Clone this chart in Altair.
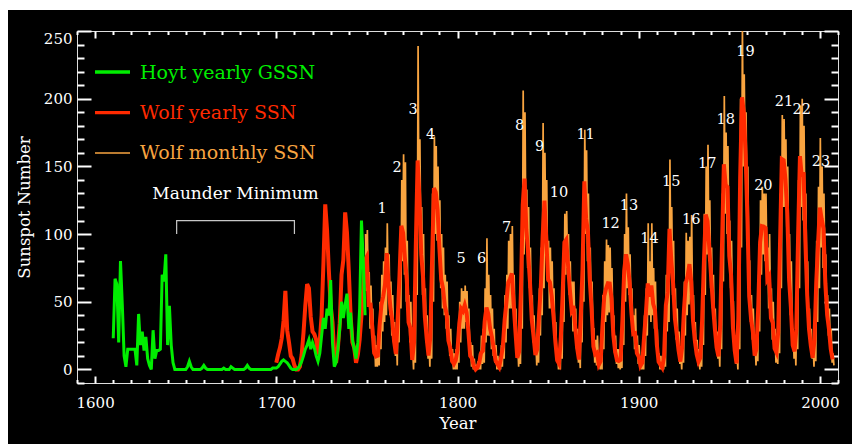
import altair as alt
import pandas as pd

FONT = "DejaVu Serif"
GREEN = "#00ee00"
RED = "#ff2a00"
ORANGE = "#f8a440"

# ---------------- data ----------------
wolf_start = 1700
wolf_yearly = [
    5, 11, 16, 23, 36, 58, 29, 20, 10, 8,
    3, 0, 0, 2, 11, 27, 47, 63, 60, 39,
    28, 26, 22, 11, 21, 40, 78, 122, 103, 73,
    47, 35, 11, 5, 16, 34, 70, 81, 116, 101,
    73, 40, 20, 16, 5, 11, 22, 40, 60, 80.9,
    83.4, 47.7, 47.8, 30.7, 12.2, 9.6, 10.2, 32.4, 47.6, 54.0,
    62.9, 85.9, 61.2, 45.1, 36.4, 20.9, 11.4, 37.8, 69.8, 106.1,
    100.8, 81.6, 66.5, 34.8, 30.6, 7.0, 19.8, 92.5, 154.4, 125.9,
    84.8, 68.1, 38.5, 22.8, 10.2, 24.1, 82.9, 134.0, 130.9, 118.1,
    89.9, 66.6, 60.0, 46.9, 41.0, 21.3, 16.0, 6.4, 4.1, 6.8,
    14.5, 34.0, 45.0, 43.1, 47.5, 42.2, 28.1, 10.1, 8.1, 2.5,
    0.0, 1.4, 5.0, 12.2, 13.9, 35.4, 45.8, 41.1, 30.1, 23.9,
    15.6, 6.6, 4.0, 1.8, 8.5, 16.6, 36.3, 49.6, 64.2, 67.0,
    70.9, 47.8, 27.5, 8.5, 13.2, 56.9, 121.5, 141.0, 103.2, 85.7,
    64.6, 36.7, 24.2, 10.7, 15.0, 40.1, 61.5, 98.5, 124.7, 96.3,
    66.6, 64.5, 54.1, 39.0, 20.6, 6.7, 4.3, 22.7, 54.8, 93.8,
    95.8, 77.2, 59.1, 44.0, 47.0, 30.5, 16.3, 7.3, 37.6, 74.0,
    139.0, 111.2, 101.6, 66.2, 44.7, 17.0, 11.3, 12.4, 3.4, 6.0,
    32.3, 54.3, 59.7, 63.7, 63.5, 52.2, 25.4, 13.1, 6.8, 6.3,
    7.1, 35.6, 73.0, 85.1, 78.0, 64.0, 41.8, 26.2, 26.7, 12.1,
    9.5, 2.7, 5.0, 24.4, 42.0, 63.5, 53.8, 62.0, 48.5, 43.9,
    18.6, 5.7, 3.6, 1.4, 9.6, 47.4, 57.1, 103.9, 80.6, 63.6,
    37.6, 26.1, 14.2, 5.8, 16.7, 44.3, 63.9, 69.0, 77.8, 64.9,
    35.7, 21.2, 11.1, 5.7, 8.7, 36.1, 79.7, 114.4, 109.6, 88.8,
    67.8, 47.5, 30.6, 16.3, 9.6, 33.2, 92.6, 151.6, 136.3, 134.7,
    83.9, 69.4, 31.5, 13.9, 4.4, 38.0, 141.7, 201.0, 190.0, 159.0,
    112.3, 53.9, 37.6, 27.9, 10.2, 15.1, 47.0, 93.8, 105.9, 105.5,
    104.5, 66.6, 68.9, 38.0, 34.5, 15.5, 12.6, 27.5, 92.5, 155.4,
    154.6, 140.4, 115.9, 66.6, 45.9, 17.9, 13.4, 29.4, 100.2, 157.6,
    142.6, 145.7, 94.3, 54.6, 29.9, 17.5, 8.6, 21.5, 64.3, 93.3,
    119.6, 111.0, 104.0, 63.7, 40.4, 29.8, 15.2, 7.5,
]

hoyt_start = 1610
hoyt_yearly = [
    23, 67, 63, 20, 80, 48, 10, 2, 15, 15,
    15, 15, 15, 3, 41, 18, 28, 14, 24, 8,
    3, 0, 29, 8, 14, 14, 15, 70, 65, 85,
    18, 47, 18, 5, 0, 0, 0, 0, 0, 0,
    0, 2, 6, 2, 0, 0, 0, 0, 0, 1,
    3, 1, 0, 0, 0, 0, 0, 0, 0, 0,
    0, 1, 0, 0, 0, 2, 1, 0, 0, 0,
    0, 0, 0, 1, 3, 1, 0, 0, 0, 0,
    0, 0, 0, 0, 0, 0, 0, 0, 1, 1,
    1, 2, 4, 6, 7, 6, 5, 3, 1, 0,
    0, 0, 1, 3, 6, 10, 15, 18, 22, 15,
    20, 16, 10, 6, 12, 25, 38, 30, 45, 40,
    66, 20, 2, 5, 15, 30, 50, 38, 48, 56,
    30, 42, 22, 15, 8, 20, 45, 110, 80, 40,
]

monthly_start = 1749
monthly_high = [
    100,
    103, 72, 62, 45, 25, 18, 25, 50, 70, 80,
    90, 108, 85, 65, 55, 35, 25, 55, 100, 140,
    159, 153, 95, 55, 50, 15, 40, 130, 239, 170,
    120, 100, 60, 40, 22, 45, 130, 172, 165, 150,
    125, 100, 90, 70, 65, 40, 30, 15, 12, 15,
    25, 50, 60, 58, 62, 58, 45, 20, 18, 8,
    2, 6, 12, 25, 30, 60, 97, 70, 55, 45,
    30, 18, 10, 8, 18, 30, 55, 70, 95, 100,
    106, 70, 45, 18, 28, 90, 206, 190, 133, 120,
    90, 55, 40, 20, 30, 60, 90, 182, 160, 140,
    95, 90, 80, 60, 35, 15, 12, 40, 80, 115,
    117, 100, 80, 65, 65, 45, 30, 15, 60, 100,
    177, 162, 130, 90, 65, 30, 22, 25, 10, 15,
    55, 80, 96, 92, 90, 75, 40, 25, 15, 15,
    15, 55, 100, 130, 105, 85, 60, 40, 45, 25,
    18, 8, 12, 40, 60, 108, 80, 108, 75, 65,
    30, 12, 10, 5, 20, 70, 80, 155, 120, 95,
    60, 45, 28, 12, 30, 65, 101, 95, 98, 114,
    55, 35, 22, 15, 18, 60, 115, 150, 166, 125,
    90, 70, 45, 28, 20, 55, 130, 202, 175, 165,
    110, 95, 50, 25, 12, 70, 200, 254, 218, 190,
    150, 80, 55, 45, 20, 25, 70, 125, 135, 130,
    130, 90, 100, 60, 50, 30, 25, 45, 130, 188,
    185, 170, 150, 100, 80, 30, 25, 45, 140, 195,
    200, 180, 130, 80, 45, 30, 18, 40, 95, 135,
    171, 150, 130, 85, 55, 45, 30, 12,
]
monthly_low = [
    58,
    62, 30, 30, 15, 2, 2, 3, 15, 28, 35,
    40, 60, 40, 25, 20, 10, 3, 20, 45, 80,
    70, 50, 40, 20, 12, 0, 5, 55, 110, 90,
    55, 40, 20, 8, 2, 8, 50, 100, 95, 90,
    60, 45, 40, 30, 25, 10, 5, 0, 0, 0,
    5, 20, 30, 30, 35, 30, 15, 2, 0, 0,
    0, 0, 0, 4, 5, 20, 25, 25, 15, 10,
    5, 0, 0, 0, 2, 8, 20, 30, 45, 45,
    50, 30, 15, 2, 4, 30, 85, 100, 75, 60,
    45, 20, 12, 3, 5, 25, 40, 60, 90, 65,
    45, 45, 35, 20, 8, 0, 0, 8, 35, 70,
    75, 55, 40, 28, 30, 15, 5, 1, 20, 50,
    100, 80, 75, 45, 30, 5, 3, 3, 0, 0,
    15, 35, 40, 42, 45, 32, 12, 4, 1, 0,
    1, 18, 50, 60, 55, 45, 28, 15, 12, 4,
    2, 0, 0, 10, 25, 40, 35, 40, 30, 28,
    8, 0, 0, 0, 2, 28, 35, 75, 55, 40,
    22, 12, 4, 0, 5, 25, 40, 48, 55, 40,
    20, 10, 3, 0, 2, 18, 55, 85, 80, 60,
    45, 30, 18, 8, 2, 15, 65, 115, 100, 100,
    60, 50, 18, 4, 0, 15, 90, 150, 150, 120,
    80, 35, 22, 15, 3, 6, 28, 70, 85, 80,
    80, 45, 45, 22, 20, 5, 4, 12, 60, 120,
    120, 105, 80, 40, 25, 8, 3, 15, 60, 120,
    110, 110, 65, 35, 18, 8, 2, 6, 35, 60,
    90, 75, 75, 45, 25, 15, 5, 3,
]

cycle_labels = ["1", "2", "3", "4", "5", "6", "7", "8", "9", "10", "11", "12",
                "13", "14", "15", "16", "17", "18", "19", "20", "21", "22", "23"]
cycle_label_year = [1758.4, 1766.7, 1775.5, 1785.1, 1802.0, 1813.3, 1827.1, 1834.3,
                    1845.3, 1856.0, 1870.7, 1884.5, 1894.6, 1906.0, 1918.0, 1929.0,
                    1937.8, 1948.0, 1959.0, 1968.8, 1980.2, 1990.0, 2000.6]
cycle_label_value = [120, 150, 193, 175, 83, 83, 106, 181, 166, 132, 175, 109,
                     122, 98, 140, 112, 153, 186, 236, 137, 199, 193, 155]

maunder_label = "Maunder Minimum"
maunder_years = [1645, 1710]
maunder_bracket = [100, 110]
maunder_label_value = 126

legend_labels = ["Hoyt yearly GSSN", "Wolf yearly SSN", "Wolf monthly SSN"]

x_major = [1600, 1700, 1800, 1900, 2000]
y_major = [0, 50, 100, 150, 200, 250]
x_minor = [v for v in range(1590, 2011, 10) if v % 100 != 0]
y_minor = [v for v in range(-10, 251, 10) if v % 50 != 0]

# ---------------- tables ----------------
wolf_df = pd.DataFrame({"year": list(range(wolf_start, wolf_start + len(wolf_yearly))),
                        "ssn": wolf_yearly})
hoyt_df = pd.DataFrame({"year": list(range(hoyt_start, hoyt_start + len(hoyt_yearly))),
                        "ssn": hoyt_yearly})
mrows = []
for i, (hi, lo) in enumerate(zip(monthly_high, monthly_low)):
    yr = monthly_start + i
    mrows.append({"t": yr + 0.25, "ssn": hi})
    mrows.append({"t": yr + 0.75, "ssn": lo})
monthly_df = pd.DataFrame(mrows)
cycle_df = pd.DataFrame({"year": cycle_label_year, "v": cycle_label_value, "label": cycle_labels})
bracket_df = pd.DataFrame({
    "year": [maunder_years[0], maunder_years[0], maunder_years[1], maunder_years[1]],
    "v": [maunder_bracket[0], maunder_bracket[1], maunder_bracket[1], maunder_bracket[0]],
    "o": [0, 1, 2, 3],
})
mlabel_df = pd.DataFrame({"year": [(maunder_years[0] + maunder_years[1]) / 2],
                          "v": [maunder_label_value], "label": [maunder_label]})

XS = alt.Scale(domain=[1590, 2010], nice=False, zero=False)
YS = alt.Scale(domain=[-10, 250], nice=False, zero=False)

common = dict(domain=False, grid=False, tickColor="white", tickWidth=2,
              labelColor="white", labelFont=FONT, labelFontSize=15)

ax_bottom_major = alt.Axis(orient="bottom", values=x_major, format="d", offset=-7, tickSize=7,
                           labelPadding=12, title="Year", titleColor="white", titleFont=FONT,
                           titleFontSize=16.5, titleFontWeight="normal", titlePadding=5, **common)
ax_bottom_minor = alt.Axis(orient="bottom", values=x_minor, offset=-3.5, tickSize=3.5,
                           labels=False, title=None, **common)
ax_top_major = alt.Axis(orient="top", values=x_major, offset=-7, tickSize=7,
                        labels=False, title=None, **common)
ax_top_minor = alt.Axis(orient="top", values=x_minor, offset=-3.5, tickSize=3.5,
                        labels=False, title=None, **common)
ax_left_major = alt.Axis(orient="left", values=y_major, offset=-14, tickSize=14,
                         labelPadding=5, labelFlush=True, title="Sunspot Number",
                         titleColor="white", titleFont=FONT, titleFontSize=16.5,
                         titleFontWeight="normal", titlePadding=11, **common)
ax_left_minor = alt.Axis(orient="left", values=y_minor, offset=-7, tickSize=7,
                         labels=False, title=None, **common)
ax_right_major = alt.Axis(orient="right", values=y_major, offset=-14, tickSize=14,
                          labels=False, title=None, **common)
ax_right_minor = alt.Axis(orient="right", values=y_minor, offset=-7, tickSize=7,
                          labels=False, title=None, **common)

one = pd.DataFrame({"a": [0]})
strip_top = alt.Chart(one).mark_rect(color="white").encode(
    x=alt.value(-77), x2=alt.value(775), y=alt.value(-31), y2=alt.value(-21))
strip_left = alt.Chart(one).mark_rect(color="white").encode(
    x=alt.value(-77), x2=alt.value(-69), y=alt.value(-31), y2=alt.value(413))

orange = alt.Chart(monthly_df).mark_line(color=ORANGE, strokeWidth=1.7, clip=True).encode(
    x=alt.X("t:Q", scale=XS, axis=ax_bottom_major),
    y=alt.Y("ssn:Q", scale=YS, axis=ax_left_major))
red = alt.Chart(wolf_df).mark_line(color=RED, strokeWidth=4).encode(
    x=alt.X("year:Q", scale=XS, axis=ax_bottom_minor),
    y=alt.Y("ssn:Q", scale=YS, axis=ax_left_minor))
green = alt.Chart(hoyt_df).mark_line(color=GREEN, strokeWidth=3).encode(
    x=alt.X("year:Q", scale=XS, axis=ax_top_major),
    y=alt.Y("ssn:Q", scale=YS, axis=ax_right_major))
cycles = alt.Chart(cycle_df).mark_text(color="white", font=FONT, fontSize=14.5, dy=2,
                                       baseline="middle", align="center").encode(
    x=alt.X("year:Q", scale=XS, axis=ax_top_minor),
    y=alt.Y("v:Q", scale=YS, axis=ax_right_minor),
    text="label:N")
bracket = alt.Chart(bracket_df).mark_line(color="#c8c8c8", strokeWidth=1.2).encode(
    x=alt.X("year:Q", scale=XS, axis=None),
    y=alt.Y("v:Q", scale=YS, axis=None),
    order="o:Q")
mlabel = alt.Chart(mlabel_df).mark_text(color="white", font=FONT, fontSize=17,
                                        baseline="alphabetic", align="center").encode(
    x=alt.X("year:Q", scale=XS, axis=None),
    y=alt.Y("v:Q", scale=YS, axis=None),
    text="label:N")

legend_layers = []
leg_colors = [GREEN, RED, ORANGE]
leg_widths = [3.3, 3.3, 1.3]
leg_line_y = [41, 81.7, 122]
leg_text_y = [48, 88.3, 128.3]
for i, lab in enumerate(legend_labels):
    d = pd.DataFrame({"label": [lab]})
    legend_layers.append(alt.Chart(d).mark_rule(color=leg_colors[i], strokeWidth=leg_widths[i]).encode(
        x=alt.value(18), x2=alt.value(53), y=alt.value(leg_line_y[i])))
    legend_layers.append(alt.Chart(d).mark_text(color=leg_colors[i], font=FONT, fontSize=19,
                                                align="left", baseline="alphabetic").encode(
        x=alt.value(63), y=alt.value(leg_text_y[i]), text="label:N"))

chart = alt.layer(
    strip_top, strip_left, orange, red, green, bracket, mlabel, cycles, *legend_layers
).resolve_axis(x="independent", y="independent").properties(
    width=761, height=352, background="black",
    padding={"left": 77, "top": 31, "right": 14, "bottom": 61},
    autosize=alt.AutoSizeParams(type="none"),
).configure_view(stroke="white", strokeWidth=2).configure(font=FONT)

chart.save("out.html", embed_options={"renderer": "svg", "actions": False})
